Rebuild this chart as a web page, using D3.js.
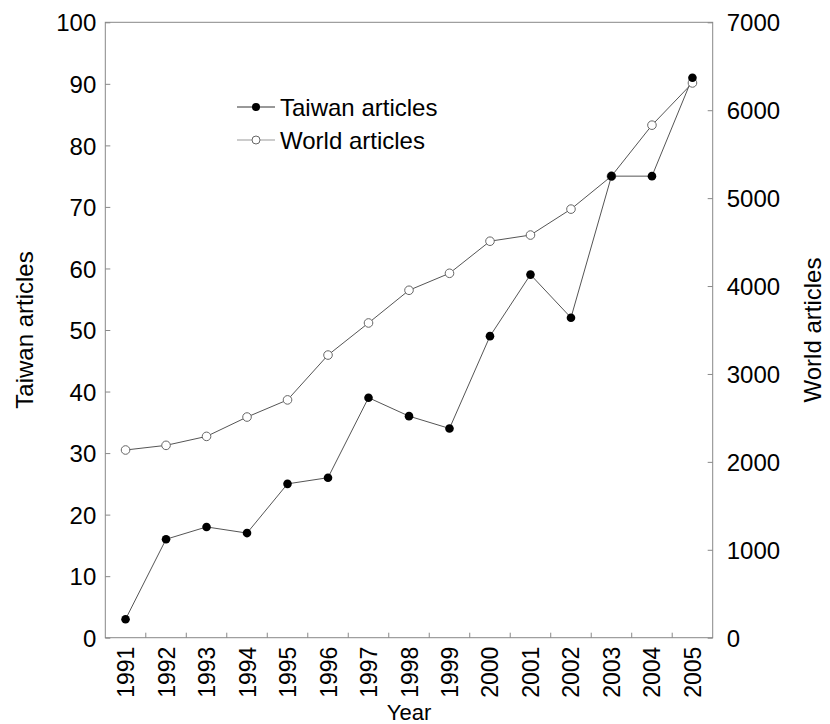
<!DOCTYPE html>
<html><head><meta charset="utf-8">
<script src="https://cdn.jsdelivr.net/npm/d3@7"></script>
<style>body{margin:0;background:#fff}svg{display:block}text{font-family:"Liberation Sans",Arial,sans-serif;fill:#000}</style>
</head><body>
<svg id="c" width="830" height="724"></svg>
<script>
const years = [1991,1992,1993,1994,1995,1996,1997,1998,1999,2000,2001,2002,2003,2004,2005];
const taiwan = [3,16,18,17,25,26,39,36,34,49,59,52,75,75,91];
const world = [2135,2188,2290,2510,2705,3215,3580,3952,4145,4510,4580,4875,5250,5830,6310];
const leftTicks = [0,10,20,30,40,50,60,70,80,90,100];
const rightTicks = [0,1000,2000,3000,4000,5000,6000,7000];
const seriesNames = ["Taiwan articles","World articles"];

const svg = d3.select("#c");
const L=105.3, R=712.7, T=22.3, B=637.7;
const x = d3.scaleBand().domain(years).range([L,R]);
const yL = d3.scaleLinear().domain([0,100]).range([B,T]);
const yR = d3.scaleLinear().domain([0,7000]).range([B,T]);
const axisColor="#888", fs=24;

// frame
svg.append("rect").attr("x",L).attr("y",T).attr("width",R-L).attr("height",B-T)
  .attr("fill","none").attr("stroke",axisColor).attr("stroke-width",1);

// left axis
const gl = svg.append("g").attr("transform",`translate(${L},0)`)
  .call(d3.axisLeft(yL).tickValues(leftTicks).tickSizeInner(-5).tickSizeOuter(0).tickPadding(9).tickFormat(d3.format("d")));
gl.select(".domain").remove();
gl.selectAll("line").attr("stroke",axisColor);
gl.selectAll("text").attr("font-size",fs).attr("font-family",null).attr("dy","0.36em");

// right axis
const gr = svg.append("g").attr("transform",`translate(${R},0)`)
  .call(d3.axisRight(yR).tickValues(rightTicks).tickSizeInner(-5).tickSizeOuter(0).tickPadding(14).tickFormat(d3.format("d")));
gr.select(".domain").remove();
gr.selectAll("line").attr("stroke",axisColor);
gr.selectAll("text").attr("font-size",fs).attr("font-family",null).attr("dy","0.36em");

// bottom axis ticks at band boundaries
const bounds = years.slice(1).map(y=>x(y));
svg.append("g").selectAll("line").data(bounds).join("line")
  .attr("x1",d=>d).attr("x2",d=>d).attr("y1",B).attr("y2",B-5).attr("stroke",axisColor);
svg.append("g").selectAll("text").data(years).join("text")
  .attr("transform",d=>`translate(${x(d)+x.bandwidth()/2+8.5},${B+9}) rotate(-90)`)
  .attr("text-anchor","end").attr("font-size",23).text(d=>d);

// axis titles
svg.append("text").attr("x",(L+R)/2).attr("y",720).attr("text-anchor","middle").attr("font-size",22).text("Year");
svg.append("text").attr("transform",`translate(33,${(T+B)/2}) rotate(-90)`).attr("text-anchor","middle").attr("font-size",fs).text(seriesNames[0]);
svg.append("text").attr("transform",`translate(821,${(T+B)/2}) rotate(-90)`).attr("text-anchor","middle").attr("font-size",fs).text(seriesNames[1]);

const cx = d=>x(d)+x.bandwidth()/2;
const lineStroke="#555";
// world line
svg.append("path").datum(years.map((y,i)=>[cx(y),yR(world[i])]))
  .attr("d",d3.line()).attr("fill","none").attr("stroke",lineStroke).attr("stroke-width",1);
// taiwan line
svg.append("path").datum(years.map((y,i)=>[cx(y),yL(taiwan[i])]))
  .attr("d",d3.line()).attr("fill","none").attr("stroke",lineStroke).attr("stroke-width",1);
// world markers
svg.append("g").selectAll("circle").data(years).join("circle")
  .attr("cx",cx).attr("cy",(d,i)=>yR(world[i])).attr("r",4.3)
  .attr("fill","#fff").attr("stroke","#666").attr("stroke-width",1);
// taiwan markers
svg.append("g").selectAll("circle").data(years).join("circle")
  .attr("cx",cx).attr("cy",(d,i)=>yL(taiwan[i])).attr("r",4.3).attr("fill","#000");

// legend
const lg = svg.append("g");
const legY=[107,140];
lg.append("line").attr("x1",237).attr("x2",275).attr("y1",legY[0]).attr("y2",legY[0]).attr("stroke","#333");
lg.append("circle").attr("cx",256).attr("cy",legY[0]).attr("r",4).attr("fill","#000");
lg.append("line").attr("x1",237).attr("x2",275).attr("y1",legY[1]).attr("y2",legY[1]).attr("stroke","#999");
lg.append("circle").attr("cx",256).attr("cy",legY[1]).attr("r",4).attr("fill","#fff").attr("stroke","#666");
lg.selectAll("text").data(seriesNames).join("text")
  .attr("x",280).attr("y",(d,i)=>legY[i]+8.5).attr("font-size",fs).text(d=>d);
</script>
</body></html>
